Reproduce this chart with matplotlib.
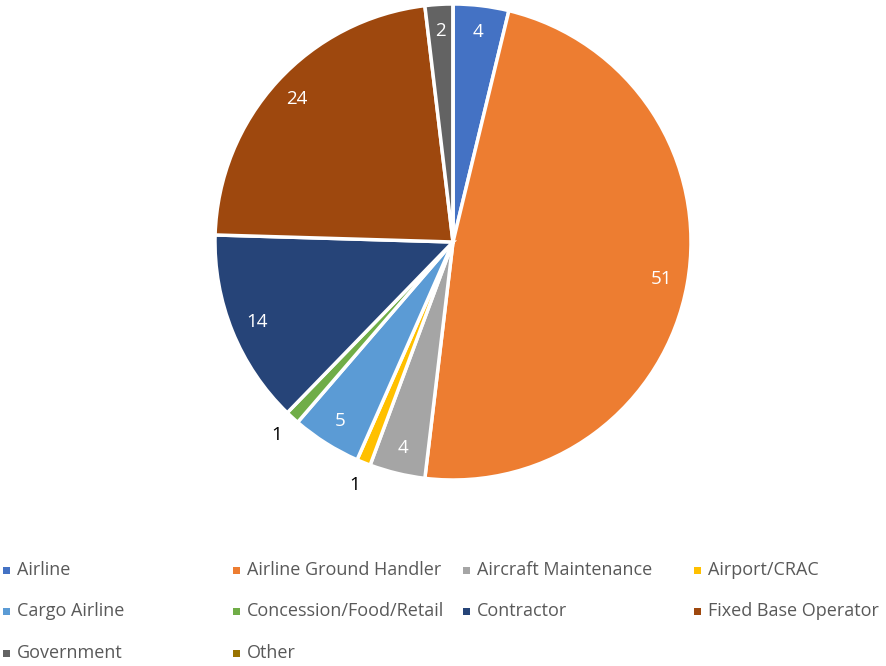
import matplotlib
matplotlib.use("Agg")
import matplotlib.pyplot as plt
from matplotlib.patches import Rectangle
import numpy as np

categories = ["Airline", "Airline Ground Handler", "Aircraft Maintenance", "Airport/CRAC",
              "Cargo Airline", "Concession/Food/Retail", "Contractor", "Fixed Base Operator",
              "Government", "Other"]
values = [4, 51, 4, 1, 5, 1, 14, 24, 2, 0]
colors = ["#4472C4", "#ED7D31", "#A5A5A5", "#FFC000", "#5B9BD5", "#70AD47",
          "#264478", "#9E480E", "#636363", "#997300"]

plt.rcParams['font.family'] = ['Open Sans', 'DejaVu Sans']

W, H = 886, 666
fig = plt.figure(figsize=(W / 100, H / 100), dpi=100)
cx, cy, r = 453, 242, 238
ax = fig.add_axes([(cx - r) / W, (H - cy - r) / H, 2 * r / W, 2 * r / H])
wedges, _ = ax.pie(values, colors=colors, startangle=90, counterclock=False, radius=1,
                   wedgeprops=dict(edgecolor="white", linewidth=2.5))
ax.set_xlim(-1, 1)
ax.set_ylim(-1, 1)
ax.set_aspect("equal")
ax.axis("off")

for w, v in zip(wedges, values):
    if v <= 0:
        continue
    ang = np.deg2rad((w.theta1 + w.theta2) / 2)
    if v >= 2:
        d, col = 0.89, "white"
    else:
        d, col = 1.1, "black"
    ax.text(d * np.cos(ang), d * np.sin(ang), str(v), ha="center", va="center",
            fontsize=13.5, color=col)

# legend (manual grid)
col_x = [3, 233, 463, 694]
row_y = [570, 611, 653]
for i, (c, lab) in enumerate(zip(colors, categories)):
    rr, cc = divmod(i, 4)
    x, y = col_x[cc], row_y[rr]
    fig.patches.append(Rectangle((x / W, (H - y - 3.5) / H), 7 / W, 7 / H,
                                 transform=fig.transFigure, facecolor=c, edgecolor="none"))
    fig.text((x + 14) / W, (H - y) / H, lab, ha="left", va="center",
             fontsize=13, color="#595959")

fig.savefig("out.png", dpi=100)
